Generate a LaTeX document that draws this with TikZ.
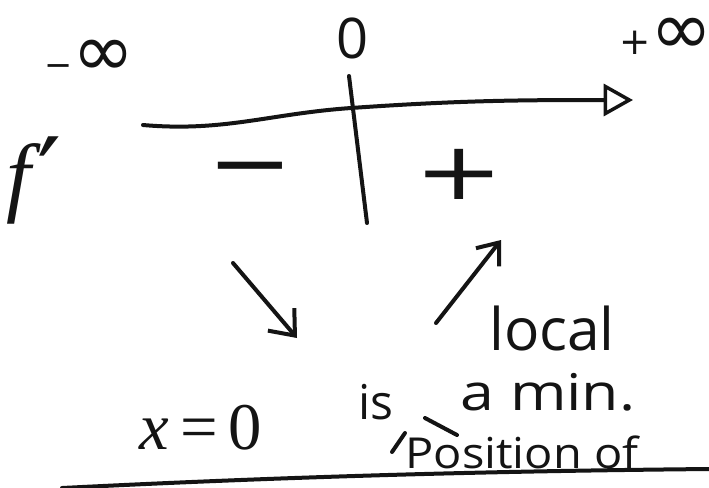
\documentclass[tikz,border=0pt]{standalone}
\usepackage{graphicx}
\usepackage{fontspec}
\setmainfont{Open Sans}
\newfontfamily\symf{DejaVu Sans}
\newfontfamily\serf{Liberation Serif}
\usetikzlibrary{arrows.meta}
\definecolor{ink}{HTML}{141414}
\newcommand\hfsz[1]{\fontsize{#1}{#1}\selectfont}
\begin{document}
\begin{tikzpicture}[x=0.75pt,y=-0.75pt,
  pen/.style={line width=3pt, line cap=round, line join=round, draw=ink},
  txt/.style={text=ink, inner sep=0pt, anchor=center}]
\useasboundingbox[fill=white] (0,0) rectangle (709,487);

% labels of the sign line
\node[txt, font=\symf\hfsz{56}] (minf) at (90,58) {\scalebox{0.45}{−}∞};
\node[txt, font=\hfsz{42}] (zero) at (353,38) {0};
\node[txt, font=\symf\hfsz{56}] (pinf) at (666,36) {\scalebox{0.5}{+}∞};
\node[txt, font=\serf\itshape\hfsz{66}, anchor=base] (fp) at (34,205)
  {f\hspace{0.08em}\raisebox{-7pt}{\symf\upshape\hfsz{80}′}};

% axis
\coordinate (axL) at (143,125);
\coordinate (axM) at (351,108);
\coordinate (axR) at (633,100);
\draw[pen, -{Triangle[open, length=22pt, width=24pt, line width=2.6pt]}]
  (axL) to[out=-5, in=184] (axM) to[out=4, in=180] (axR);

% vertical separator
\coordinate (vT) at (349,76);
\coordinate (vB) at (367,223);
\draw[pen] (vT) -- (vB);

% signs
\node[txt, font=\symf\hfsz{64}] (neg) at (250,177) {\scalebox{1.2}[1]{−}};
\node[txt, font=\symf\hfsz{80}] (pos) at (459,174) {\scalebox{1}[0.75]{+}};

% variation arrows
\coordinate (d1) at (233,263);
\coordinate (d2) at (297,338);
\draw[pen, -{Straight Barb[length=16pt, width=26pt, line width=3pt]}] (d1) -- (d2);
\coordinate (u1) at (436,323);
\coordinate (u2) at (501,240);
\draw[pen, -{Straight Barb[length=14pt, width=22pt, line width=3pt]}] (u1) -- (u2);

% conclusion text
\node[txt, font=\serf\hfsz{50}] (xeq) at (201,428) {{\itshape x}\,=\,0};
\node[txt, font=\hfsz{44}] (loc) at (552,328) {local};
\node[txt, font=\hfsz{36}] (is) at (376,402) {is};
\node[txt, font=\hfsz{38}] (amin) at (548,392) {\scalebox{1.2}[1]{a min.}};
\node[txt, font=\hfsz{32}] (posof) at (522,452) {\scalebox{1.1}[1]{Position of}};

% insertion caret
\coordinate (c1) at (392,452);
\coordinate (c2) at (405,433);
\coordinate (c3) at (425,418);
\coordinate (c4) at (457,435);
\draw[pen] (c1) -- (c2);
\draw[pen] (c3) -- (c4);

% underline
\coordinate (bL) at (62,488);
\coordinate (bR) at (709,469);
\draw[pen] (bL) .. controls (300,476) and (500,471) .. (bR);
\end{tikzpicture}
\end{document}
